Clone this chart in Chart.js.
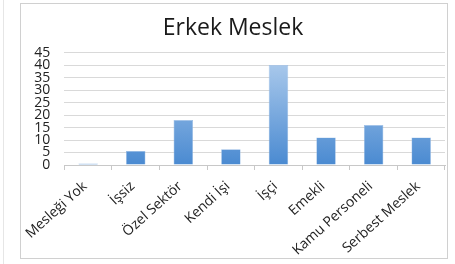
<!DOCTYPE html>
<html>
<head>
<meta charset="utf-8">
<script src="https://cdn.jsdelivr.net/npm/chart.js@4/dist/chart.umd.min.js"></script>
<style>
    html, body { margin: 0; padding: 0; background: #fff; }
    body { width: 455px; height: 264px; position: relative; overflow: hidden; }
    .strip { position: absolute; left: 3px; top: 0; width: 1px; height: 264px; background: #e6e6e6; }
    .frame { position: absolute; left: 20px; top: 3px; width: 426px; height: 254px; border: 1px solid #d0d0d0; }
    .frame canvas { display: block; }
</style>
</head>
<body>
<div class="strip"></div>
<div class="frame"><canvas id="meslekChart" width="426" height="254"></canvas></div>
<script>
const categories = ['Mesleği Yok', 'İşsiz', 'Özel Sektör', 'Kendi İşi', 'İşçi', 'Emekli', 'Kamu Personeli', 'Serbest Meslek'];
const values = [0.6, 5.6, 18, 6.3, 40, 11, 16, 11];
const yTicks = [0, 5, 10, 15, 20, 25, 30, 35, 40, 45];

document.addEventListener('DOMContentLoaded', () => {
    const ctx = document.getElementById('meslekChart');

    // vertical gradient like the Excel bars
    function barFill(context) {
        const chart = context.chart;
        const area = chart.chartArea;
        if (!area) return '#6fa3dc';
        const el = context.element;
        const top = el && el.y !== undefined ? el.y : area.top;
        const bottom = el && el.base !== undefined ? el.base : area.bottom;
        const g = chart.ctx.createLinearGradient(0, top, 0, Math.max(bottom, top + 1));
        g.addColorStop(0, '#b3cfee');
        g.addColorStop(1, '#4a8ad1');
        return g;
    }

    new Chart(ctx, {
        type: 'bar',
        data: {
            labels: categories,
            datasets: [{
                data: values,
                backgroundColor: barFill,
                borderColor: '#9dbfe6',
                borderWidth: 0.6,
                categoryPercentage: 1,
                barPercentage: 0.41
            }]
        },
        options: {
            responsive: false,
            animation: false,
            layout: { padding: { left: 0, right: 2, top: 11, bottom: 0 } },
            plugins: {
                legend: { display: false },
                tooltip: { enabled: false },
                title: {
                    display: true,
                    text: 'Erkek Meslek',
                    color: '#1a1a1a',
                    font: { family: 'Open Sans', size: 23, weight: 'normal' },
                    padding: { top: 0, bottom: 10 }
                }
            },
            scales: {
                y: {
                    min: 0,
                    max: 45,
                    afterBuildTicks: axis => { axis.ticks = yTicks.map(v => ({ value: v })); },
                    afterFit: axis => { axis.width = 32; },
                    border: { display: false },
                    grid: { color: '#d9d9d9', drawTicks: false },
                    ticks: {
                        color: '#222',
                        font: { family: 'Open Sans', size: 14, lineHeight: 0.85 },
                        autoSkip: false,
                        padding: 14
                    }
                },
                x: {
                    afterFit: axis => { axis.height = 93; },
                    border: { color: '#c8c8c8' },
                    grid: { drawOnChartArea: false, color: '#c8c8c8', tickLength: 5 },
                    ticks: {
                        color: '#222',
                        font: { family: 'Open Sans', size: 14 },
                        minRotation: 42,
                        maxRotation: 42,
                        padding: 8,
                        labelOffset: -3,
                        autoSkip: false
                    }
                }
            }
        }
    });
});
</script>
</body>
</html>
